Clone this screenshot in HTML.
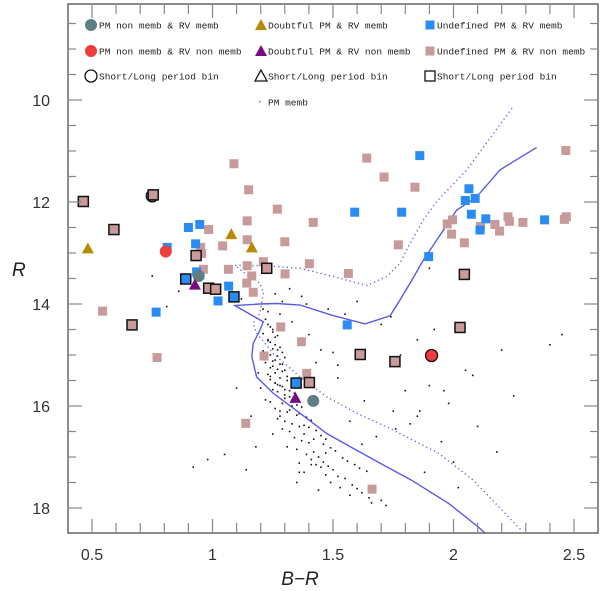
<!DOCTYPE html>
<html><head><meta charset="utf-8"><style>
html,body{margin:0;padding:0;background:#fff;}
svg{display:block;}
text{font-family:"Liberation Sans",sans-serif;}
.leg{font-family:"Liberation Mono",monospace;font-size:9.5px;fill:#222;}
</style></head><body>
<svg id="chart" width="600" height="591" viewBox="0 0 600 591" xmlns="http://www.w3.org/2000/svg"></svg>
<script>
// ---- data (B-R, R) ----
const pinkX=[1.089,1.150,1.269,1.418,1.144,0.984,1.300,1.144,1.042,0.951,0.955,0.962,1.066,1.144,1.163,1.142,1.169,1.211,1.402,1.301,1.564,0.544,0.770,1.283,1.369,1.214,1.391,1.138,1.640,1.712,1.840,2.466,1.974,1.996,1.992,2.045,2.112,2.172,2.191,2.226,2.232,2.288,2.460,2.468,1.771,1.662];
const pinkY=[11.25,11.76,12.14,12.40,12.37,12.54,12.78,12.74,12.86,12.89,13.01,13.32,13.32,13.25,13.45,13.59,13.77,13.17,13.21,13.41,13.40,14.14,15.05,14.45,14.74,15.02,15.36,16.34,11.14,11.51,11.71,10.99,12.43,12.35,12.63,12.80,12.48,12.44,12.57,12.29,12.38,12.40,12.34,12.29,12.84,17.63];
const pinkBoxX=[0.464,0.754,0.591,0.932,1.225,0.984,1.013,0.666,1.402,2.045,2.027,1.613,1.757];
const pinkBoxY=[11.99,11.86,12.54,13.05,13.30,13.69,13.71,14.41,15.54,13.42,14.46,14.99,15.13];
const blueX=[0.900,0.947,0.812,0.930,0.934,1.067,1.023,0.766,1.590,1.559,1.860,1.785,2.064,2.049,2.090,2.074,2.134,2.110,2.378,1.897];
const blueY=[12.50,12.44,12.89,12.82,13.37,13.65,13.94,14.16,12.20,14.41,11.09,12.20,11.74,11.97,11.93,12.24,12.33,12.55,12.35,13.07];
const blueBoxX=[0.889,1.089,1.347];
const blueBoxY=[13.51,13.86,15.55];
const redX=[0.806,1.909];
const redY=[12.97,15.01];
const redCircled=[false,true];
const greyX=[0.750,0.943,1.418];
const greyY=[11.88,13.45,15.90];
const greyCircled=[true,false,false];
const goldX=[0.483,1.078,1.163];
const goldY=[12.91,12.63,12.89];
const purpleX=[0.927,1.344];
const purpleY=[13.62,15.84];
const isoX=[2.345,2.193,2.096,2.013,1.930,1.875,1.820,1.778,1.737,1.633,1.495,1.363,1.266,1.197,1.093,1.211,1.197,1.169,1.163,1.183,1.252,1.363,1.474,1.584,1.695,1.824,1.980,2.102,2.131];
const isoY=[10.93,11.37,11.90,12.16,12.75,13.14,13.59,13.92,14.23,14.39,14.22,14.02,13.99,14.00,14.03,14.35,14.51,14.77,15.03,15.43,15.75,16.14,16.54,16.83,17.12,17.45,17.91,18.37,18.49];
const iso2X=[2.243,2.055,1.930,1.875,1.820,1.778,1.723,1.640,1.501,1.363,1.225,1.093,1.142,1.197,1.211,1.197,1.169,1.183,1.252,1.363,1.474,1.598,1.723,1.936,2.081,2.280];
const iso2Y=[10.16,11.37,11.99,12.35,12.81,13.20,13.46,13.64,13.46,13.30,13.25,13.24,13.43,13.59,13.79,14.18,14.38,14.57,14.97,15.43,15.82,16.14,16.41,16.92,17.45,18.43];
const dotX=[1.22,1.24,1.25,1.27,1.23,1.26,1.28,1.21,1.24,1.30,1.26,1.22,1.25,1.27,1.29,1.23,1.31,1.24,1.26,1.28,1.20,1.25,1.27,1.30,1.32,1.22,1.24,1.29,1.33,1.26,1.28,1.31,1.35,1.27,1.30,1.33,1.36,1.29,1.32,1.38,1.34,1.37,1.40,1.31,1.35,1.42,1.39,1.44,1.41,1.46,1.36,1.43,1.48,1.45,1.50,1.38,1.47,1.52,1.55,1.49,1.58,1.53,1.60,1.44,1.62,1.57,1.65,1.70,1.66,1.72,1.28,1.33,1.21,1.19,1.40,1.45,1.52,1.25,1.18,1.36,1.57,1.63,1.75,1.80,1.68,1.85,1.90,1.95,2.00,2.05,2.10,2.18,2.25,2.40,2.45,1.88,1.92,1.98,2.02,1.78,1.82,1.05,0.98,0.92,1.12,1.15,1.10,0.75,0.86,0.81,1.39,1.48,1.55,1.60,1.70,1.74,1.85,2.20,2.08,1.96,1.86,1.26,1.29,1.23,1.32,1.37,1.16,1.14,1.35,1.43,1.50,1.62,1.76,1.90,1.52,1.47,1.41,
1.23,1.25,1.26,1.24,1.27,1.29,1.22,1.25,1.28,1.30,1.24,1.26,1.28,1.31,1.27,1.29,1.32,1.34,1.30,1.33,1.35,1.37,1.32,1.36,1.39,1.41,1.38,1.40,1.43,1.45,1.42,1.46,1.49,1.51,1.47,1.54,1.56,1.59,1.61,1.64,1.21,1.23,1.25,1.27,1.29,1.24,1.26,1.30,1.33,1.28];
const dotY=[14.30,14.45,14.55,14.62,14.70,14.80,14.85,14.92,15.00,15.05,15.10,15.15,15.22,15.28,15.32,15.38,15.42,15.48,15.55,15.60,15.65,15.68,15.72,15.78,15.82,15.88,15.92,15.95,16.00,16.05,16.10,16.12,16.18,16.25,16.30,16.35,16.40,16.45,16.50,16.55,16.62,16.68,16.72,16.80,16.85,16.90,16.95,17.00,17.05,17.10,17.12,17.15,17.18,17.20,17.25,17.30,17.35,17.38,17.42,17.50,17.55,17.60,17.62,17.65,17.70,17.75,17.80,17.85,17.90,17.95,14.20,14.35,14.10,15.35,14.60,14.90,15.20,16.55,16.80,17.30,16.30,15.90,16.10,15.70,16.60,16.20,15.60,16.70,17.10,15.30,16.40,16.90,15.80,14.80,14.60,17.30,14.50,15.95,17.60,15.00,16.35,16.95,17.05,17.20,13.90,13.60,15.65,13.45,13.75,14.05,14.00,14.10,14.20,13.95,14.40,14.25,14.70,14.90,15.40,15.70,16.10,13.80,13.95,14.15,13.70,13.85,16.20,17.25,17.50,15.15,14.95,16.75,16.45,13.30,15.45,16.65,17.15,
14.40,14.50,14.65,14.75,14.90,14.95,15.08,15.12,15.18,15.30,15.25,15.35,15.45,15.50,15.58,15.62,15.70,15.75,15.85,15.90,15.98,16.02,16.08,16.15,16.22,16.28,16.38,16.42,16.48,16.58,16.65,16.75,16.82,16.88,16.92,17.02,17.08,17.15,17.22,17.28,14.58,14.72,14.88,15.02,15.18,15.42,15.55,15.68,15.88,16.20];

const NS='http://www.w3.org/2000/svg';
const svg=document.getElementById('chart');
const L=68,R=598,T=4,B=533;
function xs(v){return 92+(v-0.5)*241;}
function ys(v){return 100+(v-10)*51;}
function mk(tag,attrs,parent){const e=document.createElementNS(NS,tag);for(const k in attrs)e.setAttribute(k,attrs[k]);(parent||svg).appendChild(e);return e;}

const clip=mk('clipPath',{id:'pc'});mk('rect',{x:L,y:T,width:R-L,height:B-T},clip);
const plot=mk('g',{'clip-path':'url(#pc)'});



const frame=mk('rect',{x:L,y:T,width:R-L,height:B-T,fill:'none',stroke:'#666','stroke-width':1.5});


const ticks=mk('g',{stroke:'#888','stroke-width':1.2});


for(let i=4;i<=25;i++){const v=i/10;const x=xs(v);if(x<L||x>R)continue;const major=(i%5===0);const len=major?14:10;
 mk('line',{x1:x,y1:B,x2:x,y2:B-len},ticks);mk('line',{x1:x,y1:T,x2:x,y2:T+len},ticks);}
for(let i=17;i<=37;i++){const v=i/2;const y=ys(v);if(y<T||y>B)continue;const major=(i%4===0);const len=major?14:8;
 mk('line',{x1:L,y1:y,x2:L+len,y2:y},ticks);mk('line',{x1:R,y1:y,x2:R-len,y2:y},ticks);}
const xtl=['0.5','1','1.5','2','2.5'];const xtv=[0.5,1,1.5,2,2.5];
xtv.forEach((v,i)=>{const t=mk('text',{x:xs(v),y:560,'text-anchor':'middle','font-size':16,fill:'#333'});t.textContent=xtl[i];
 
 });
const ytv=[10,12,14,16,18];
ytv.forEach(v=>{const t=mk('text',{x:50,y:ys(v)+6,'text-anchor':'end','font-size':16,fill:'#333'});t.textContent=String(v);
 
 });
const xt=mk('text',{x:300,y:585,'text-anchor':'middle','font-size':19,'font-style':'italic',fill:'#222','font-family':'Liberation Serif, serif'});xt.textContent='B−R';


const yt=mk('text',{x:12,y:276,'font-size':19,'font-style':'italic',fill:'#222','font-family':'Liberation Serif, serif'});yt.textContent='R';



dotX.forEach((v,i)=>{const d=mk('rect',{x:xs(v)-0.8,y:ys(dotY[i])-0.8,width:1.6,height:1.6,fill:'#111'},plot);
 
 });

function poly(xa,ya,attrs,name){const pts=xa.map((v,i)=>xs(v)+','+ys(ya[i])).join(' ');const p=mk('polyline',Object.assign({points:pts,fill:'none'},attrs),plot);
 
 }
poly(isoX,isoY,{stroke:'#5a5ae6','stroke-width':1.4},'isochrone-solid');
poly(iso2X,iso2Y,{stroke:'#6a6ae0','stroke-width':1.4,'stroke-dasharray':'1.3 3'},'isochrone-dotted');

function sq(x,y,fill,boxed,name,g){const s=boxed?10:9;const r=mk('rect',{x:x-s/2,y:y-s/2,width:s,height:s,fill:fill,stroke:boxed?'#111':'none','stroke-width':boxed?1.5:0},g||plot);
 
 return r;}
function circ(x,y,fill,ringed,name,g){const c=mk('circle',{cx:x,cy:y,r:6,fill:fill,stroke:ringed?'#111':'none','stroke-width':1.3},g||plot);
 
 return c;}
function tri(x,y,fill,name,g){const p=mk('polygon',{points:`${x-6},${y+5} ${x+6},${y+5} ${x},${y-6}`,fill:fill},g||plot);
 
 return p;}

pinkX.forEach((v,i)=>sq(xs(v),ys(pinkY[i]),'#c99a9a',false,'undefined-pm-rv-nonmemb'));
blueX.forEach((v,i)=>sq(xs(v),ys(blueY[i]),'#2a8cf2',false,'undefined-pm-rv-memb'));
greyX.forEach((v,i)=>circ(xs(v),ys(greyY[i]),'#5f7d84',greyCircled[i],'pm-nonmemb-rv-memb'));
redX.forEach((v,i)=>circ(xs(v),ys(redY[i]),'#f03c3c',redCircled[i],'pm-nonmemb-rv-nonmemb'));
pinkBoxX.forEach((v,i)=>sq(xs(v),ys(pinkBoxY[i]),'#c99a9a',true,'undefined-rv-nonmemb-period-bin'));
blueBoxX.forEach((v,i)=>sq(xs(v),ys(blueBoxY[i]),'#2a8cf2',true,'undefined-rv-memb-period-bin'));
goldX.forEach((v,i)=>tri(xs(v),ys(goldY[i]),'#b88a00','doubtful-pm-rv-memb'));
purpleX.forEach((v,i)=>tri(xs(v),ys(purpleY[i]),'#7a0a82','doubtful-pm-rv-nonmemb'));

const lg=mk('g',{});


function ltext(x,y,s){const t=mk('text',{x:x,y:y+3.5,class:'leg'},lg);t.textContent=s;
 
 }
circ(91,25,'#5f7d84',false,'legend-marker',lg);ltext(99,25,'PM non memb & RV memb');
circ(91,51,'#f03c3c',false,'legend-marker',lg);ltext(99,51,'PM non memb & RV non memb');
mk('circle',{cx:91,cy:76,r:6,fill:'none',stroke:'#111','stroke-width':1.3},lg);ltext(99,76,'Short/Long period bin');
tri(261,25,'#b88a00','legend-marker',lg);ltext(268,25,'Doubtful PM & RV memb');
tri(261,51,'#7a0a82','legend-marker',lg);ltext(268,51,'Doubtful PM & RV non memb');
mk('polygon',{points:'255,81 267,81 261,70',fill:'none',stroke:'#111','stroke-width':1.3},lg);ltext(268,76,'Short/Long period bin');
mk('rect',{x:259,y:101,width:1.5,height:1.5,fill:'#6a6ae0'},lg);ltext(268,102,'PM memb');
sq(430,25,'#2a8cf2',false,'legend-marker',lg);ltext(437,25,'Undefined PM & RV memb');
sq(430,51,'#c99a9a',false,'legend-marker',lg);ltext(437,51,'Undefined PM & RV non memb');
mk('rect',{x:425,y:71,width:10,height:10,fill:'none',stroke:'#111','stroke-width':1.3},lg);ltext(437,76,'Short/Long period bin');
</script>
</body></html>
